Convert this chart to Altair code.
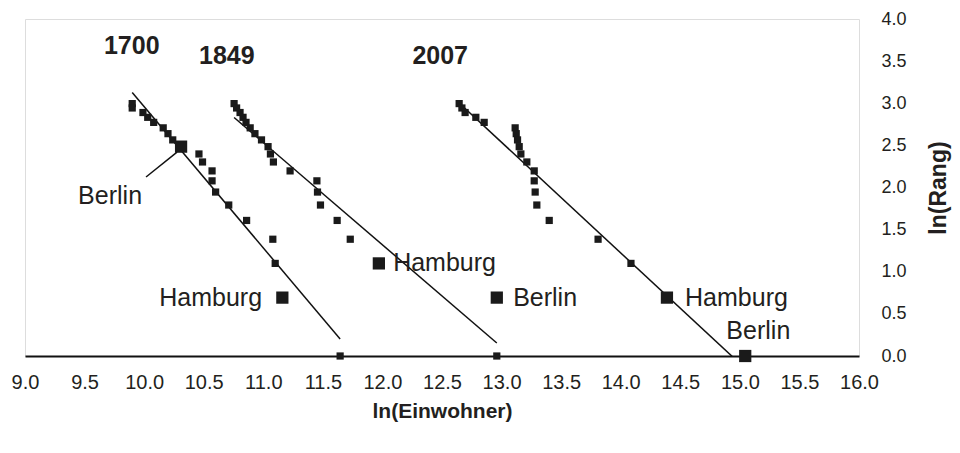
import altair as alt
import pandas as pd

# ---- data ----
ln_rank = [2.996, 2.944, 2.890, 2.833, 2.773, 2.708, 2.639, 2.565, 2.485, 2.398,
           2.303, 2.197, 2.079, 1.946, 1.792, 1.609, 1.386, 1.099, 0.693, 0.0]

ln_pop_1700 = [9.90, 9.90, 9.99, 10.03, 10.08, 10.16, 10.20, 10.24, 10.31, 10.46,
               10.49, 10.57, 10.57, 10.60, 10.71, 10.86, 11.08, 11.10, 11.16, 11.645]
city_1700 = ["", "", "", "", "", "", "", "", "Berlin", "",
             "", "", "", "", "", "", "", "", "Hamburg", ""]

ln_pop_1849 = [10.755, 10.776, 10.805, 10.83, 10.855, 10.89, 10.93, 10.985, 11.04, 11.06,
               11.085, 11.225, 11.45, 11.455, 11.48, 11.62, 11.73, 11.97, 12.96, 12.96]
city_1849 = ["", "", "", "", "", "", "", "", "", "",
             "", "", "", "", "", "", "", "Hamburg", "Berlin", ""]

ln_pop_2007 = [12.644, 12.667, 12.694, 12.784, 12.854, 13.114, 13.123, 13.134, 13.148, 13.162,
               13.212, 13.274, 13.274, 13.282, 13.296, 13.40, 13.81, 14.086, 14.388, 15.045]
city_2007 = ["", "", "", "", "", "", "", "", "", "",
             "", "", "", "", "", "", "", "", "Hamburg", "Berlin"]

year_labels = ["1700", "1849", "2007"]
year_label_x = [9.896, 10.694, 12.485]
year_label_y = [3.68, 3.56, 3.56]

city_label_text = ["Berlin", "Hamburg", "Hamburg", "Berlin", "Hamburg", "Berlin"]
city_label_x = [9.714, 10.99, 12.09, 13.097, 14.54, 15.155]
city_label_y = [1.90, 0.693, 1.099, 0.693, 0.693, 0.30]
city_label_align = ["center", "right", "left", "left", "left", "center"]

leader_x = [10.016, 10.276]
leader_y = [2.125, 2.42]

x_ticks = [9.0, 9.5, 10.0, 10.5, 11.0, 11.5, 12.0, 12.5, 13.0, 13.5, 14.0, 14.5, 15.0, 15.5, 16.0]
y_ticks = [0.0, 0.5, 1.0, 1.5, 2.0, 2.5, 3.0, 3.5, 4.0]

# ---- tables ----
rows = []
for year, xs, cities in [("1700", ln_pop_1700, city_1700),
                         ("1849", ln_pop_1849, city_1849),
                         ("2007", ln_pop_2007, city_2007)]:
    for xv, yv, c in zip(xs, ln_rank, cities):
        rows.append({"year": year, "ln_pop": xv, "ln_rank": yv, "city": c})
df = pd.DataFrame(rows)

years_df = pd.DataFrame({"text": year_labels, "x": year_label_x, "y": year_label_y})
labels_df = pd.DataFrame({"text": city_label_text, "x": city_label_x, "y": city_label_y,
                          "align": city_label_align})
leader_df = pd.DataFrame({"x": [leader_x[0]], "x2": [leader_x[1]],
                          "y": [leader_y[0]], "y2": [leader_y[1]]})

FONT = "Liberation Sans"
INK = "#231f20"

xscale = alt.Scale(domain=[9, 16], nice=False, zero=False)
yscale = alt.Scale(domain=[0, 4], nice=False, zero=True)

xaxis = alt.Axis(values=x_ticks, format=".1f", ticks=False, tickSize=0, grid=False,
                 domainColor="#111", domainWidth=2, labelFontSize=20, labelPadding=16,
                 labelColor=INK, labelFont=FONT, title="ln(Einwohner)",
                 titleFont=FONT, titleFontSize=21, titleFontWeight="bold",
                 titleColor=INK, titlePadding=8, labelFlush=False)
yaxis = alt.Axis(orient="right", values=y_ticks, format=".1f", ticks=False, tickSize=0,
                 grid=False, domain=False, labelFontSize=18, labelPadding=22,
                 labelColor=INK, labelFont=FONT, title="ln(Rang)", titleAngle=270,
                 titleFont=FONT, titleFontSize=23, titleFontWeight="bold",
                 titleColor=INK, titlePadding=44, labelFlush=False)

base = alt.Chart(df)

trend = base.transform_regression(
    "ln_pop", "ln_rank", groupby=["year"], method="linear"
).mark_line(color="#111", strokeWidth=1.5, clip=True).encode(
    x=alt.X("ln_pop:Q", scale=xscale, axis=xaxis),
    y=alt.Y("ln_rank:Q", scale=yscale, axis=yaxis),
    detail="year:N",
)

points = base.mark_square(color="#1a1a1a", opacity=1).encode(
    x=alt.X("ln_pop:Q", scale=xscale),
    y=alt.Y("ln_rank:Q", scale=yscale),
    size=alt.condition("datum.city != ''", alt.value(150), alt.value(52)),
)

leader = alt.Chart(leader_df).mark_rule(color="#111", strokeWidth=1.5).encode(
    x="x:Q", x2="x2:Q", y="y:Q", y2="y2:Q"
)

year_text = alt.Chart(years_df).mark_text(
    font=FONT, fontSize=25, fontWeight="bold", color=INK, baseline="middle"
).encode(x="x:Q", y="y:Q", text="text:N")

label_layers = []
for al in ["left", "center", "right"]:
    label_layers.append(
        alt.Chart(labels_df).transform_filter(alt.datum.align == al).mark_text(
            font=FONT, fontSize=25, color=INK, align=al, baseline="middle"
        ).encode(x="x:Q", y="y:Q", text="text:N")
    )

chart = alt.layer(trend, points, leader, year_text, *label_layers).properties(
    width=834, height=337,
    autosize=alt.AutoSizeParams(type="none"),
    padding={"left": 17, "top": 11, "right": 93, "bottom": 78},
).configure_view(
    stroke="#222", strokeWidth=1.5
).configure(background="white")

chart.save("out.html", embed_options={"renderer": "svg", "actions": False})
